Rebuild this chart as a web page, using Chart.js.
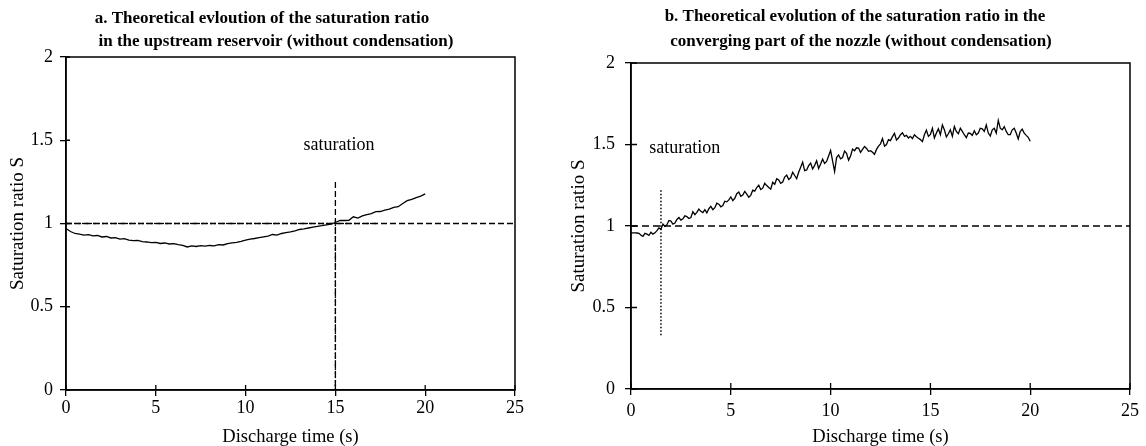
<!DOCTYPE html>
<html>
<head>
<meta charset="utf-8">
<script src="https://cdn.jsdelivr.net/npm/chart.js@4/dist/chart.umd.min.js"></script>
<style>
body{margin:0;background:#fff}
canvas{position:absolute;top:0}
#chartA{left:0}
#chartB{left:563px}
</style>
</head>
<body>
<canvas id="chartA" width="563" height="446"></canvas>
<canvas id="chartB" width="583" height="446"></canvas>
<script>
const xTicks=[0,5,10,15,20,25]
const yTicks=[0,0.5,1,1.5,2]

// a. upstream reservoir
const timeA=[0,0.25,0.5,0.75,1,1.25,1.5,1.75,2,2.25,2.5,2.75,3,3.25,3.5,3.75,4,4.25,4.5,4.75,
5,5.25,5.5,5.75,6,6.25,6.5,6.75,7,7.25,7.5,7.75,8,8.25,8.5,8.75,9,9.25,9.5,9.75,
10,10.25,10.5,10.75,11,11.25,11.5,11.75,12,12.25,12.5,12.75,13,13.25,13.5,13.75,14,14.25,14.5,14.75,
15,15.25,15.5,15.75,16,16.25,16.5,16.75,17,17.25,17.5,17.75,18,18.25,18.5,18.75,19,19.25,19.5,19.75,20]
const ratioA=[0.970,0.952,0.940,0.936,0.930,0.933,0.926,0.928,0.919,0.922,0.913,0.915,0.906,0.909,0.900,0.897,0.899,0.891,0.889,0.885,
0.887,0.880,0.883,0.877,0.879,0.873,0.869,0.859,0.865,0.862,0.867,0.864,0.868,0.866,0.873,0.871,0.879,0.884,0.887,0.893,
0.900,0.906,0.910,0.915,0.920,0.924,0.934,0.930,0.940,0.945,0.950,0.956,0.964,0.968,0.973,0.978,0.983,0.987,0.992,0.997,
1.006,1.018,1.018,1.019,1.040,1.032,1.046,1.054,1.060,1.071,1.072,1.080,1.086,1.097,1.101,1.120,1.137,1.145,1.156,1.165,1.178]

// b. converging part of the nozzle
const timeB=[0,0.1,0.2,0.3,0.4,0.5,0.6,0.7,0.8,0.9,1,1.1,1.2,1.3,1.4,1.5,1.6,1.7,1.8,1.9,
2,2.1,2.2,2.3,2.4,2.5,2.6,2.7,2.8,2.9,3,3.1,3.2,3.3,3.4,3.5,3.6,3.7,3.8,3.9,
4,4.1,4.2,4.3,4.4,4.5,4.6,4.7,4.8,4.9,5,5.1,5.2,5.3,5.4,5.5,5.6,5.7,5.8,5.9,
6,6.1,6.2,6.3,6.4,6.5,6.6,6.7,6.8,6.9,7,7.1,7.2,7.3,7.4,7.5,7.6,7.7,7.8,7.9,
8,8.1,8.2,8.3,8.4,8.5,8.6,8.7,8.8,8.9,9,9.1,9.2,9.3,9.4,9.5,9.6,9.7,9.8,9.9,
10,10.1,10.2,10.3,10.4,10.5,10.6,10.7,10.8,10.9,11,11.1,11.2,11.3,11.4,11.5,11.6,11.7,11.8,11.9,
12,12.1,12.2,12.3,12.4,12.5,12.6,12.7,12.8,12.9,13,13.1,13.2,13.3,13.4,13.5,13.6,13.7,13.8,13.9,
14,14.1,14.2,14.3,14.4,14.5,14.6,14.7,14.8,14.9,15,15.1,15.2,15.3,15.4,15.5,15.6,15.7,15.8,15.9,
16,16.1,16.2,16.3,16.4,16.5,16.6,16.7,16.8,16.9,17,17.1,17.2,17.3,17.4,17.5,17.6,17.7,17.8,17.9,
18,18.1,18.2,18.3,18.4,18.5,18.6,18.7,18.8,18.9,19,19.1,19.2,19.3,19.4,19.5,19.6,19.7,19.8,19.9,20]
const ratioB=[0.958,0.958,0.958,0.957,0.955,0.944,0.936,0.955,0.950,0.942,0.962,0.950,0.958,0.972,0.988,0.980,1.012,0.998,1.008,1.034,
1.030,1.012,1.018,1.040,1.052,1.036,1.044,1.062,1.058,1.046,1.052,1.088,1.070,1.084,1.104,1.090,1.082,1.100,1.080,1.106,
1.120,1.100,1.112,1.140,1.134,1.118,1.126,1.152,1.148,1.160,1.178,1.156,1.170,1.198,1.208,1.182,1.190,1.212,1.196,1.176,
1.188,1.220,1.214,1.236,1.250,1.224,1.232,1.262,1.248,1.236,1.226,1.268,1.256,1.290,1.282,1.262,1.270,1.300,1.312,1.286,
1.296,1.330,1.310,1.290,1.330,1.360,1.392,1.340,1.344,1.370,1.386,1.350,1.372,1.400,1.352,1.380,1.410,1.384,1.396,1.430,
1.464,1.400,1.334,1.420,1.436,1.412,1.420,1.460,1.446,1.404,1.430,1.472,1.462,1.480,1.478,1.452,1.470,1.488,1.476,1.458,
1.462,1.452,1.440,1.470,1.490,1.504,1.536,1.490,1.500,1.530,1.524,1.548,1.568,1.528,1.540,1.560,1.572,1.550,1.556,1.540,
1.550,1.536,1.560,1.548,1.538,1.530,1.518,1.560,1.588,1.550,1.562,1.600,1.540,1.570,1.596,1.560,1.620,1.590,1.546,1.566,
1.590,1.550,1.610,1.580,1.566,1.600,1.580,1.560,1.542,1.570,1.568,1.556,1.584,1.560,1.570,1.600,1.596,1.580,1.620,1.570,
1.552,1.590,1.600,1.570,1.648,1.600,1.590,1.610,1.580,1.560,1.560,1.590,1.600,1.570,1.534,1.580,1.594,1.570,1.556,1.544,1.520]

// reference lines
const satX=[0,25], satY=[1,1]
const satDotX=[0,17.3]
const markAx=[15,15], markAy=[1.25,0]
const markAdotY=[1.02,0]
const markBx=[1.5,1.5], markBy=[1.22,0.32]

const serif="'Liberation Serif','Times New Roman',serif"
const pts=(xs,ys)=>xs.map((v,i)=>({x:v,y:ys[i]}))

const frame={
id:'frame',
afterDatasetsDraw(chart,args,o){
const {ctx,chartArea:a,scales:{x,y}}=chart
ctx.save()
ctx.strokeStyle='#000'
ctx.lineWidth=1.5
ctx.strokeRect(a.left,a.top,a.right-a.left,a.bottom-a.top)
ctx.lineWidth=1.3
ctx.beginPath()
x.ticks.forEach(t=>{const px=x.getPixelForValue(t.value);ctx.moveTo(px,a.bottom);ctx.lineTo(px,a.bottom-o.inX)})
y.ticks.forEach(t=>{const py=y.getPixelForValue(t.value);ctx.moveTo(a.left,py);ctx.lineTo(a.left+o.inY,py)})
ctx.stroke()
ctx.fillStyle='#000'
ctx.textAlign='center'
ctx.textBaseline='middle'
ctx.font='18px '+serif
ctx.fillText(o.note,x.getPixelForValue(o.noteAt[0]),y.getPixelForValue(o.noteAt[1]))
ctx.font='bold 17px '+serif
o.title.forEach((line,i)=>ctx.fillText(line,o.titlePos[i][0],o.titlePos[i][1]))
ctx.restore()
}
}

function scales(c){
return {
x:{
type:'linear',min:0,max:25,
afterBuildTicks:s=>{s.ticks=xTicks.map(v=>({value:v}))},
afterFit:s=>{s.height=c.xh},
grid:{drawOnChartArea:false,color:'#000',lineWidth:1.3,tickLength:6},
border:{color:'#000',width:1.5},
ticks:{color:'#000',font:{family:serif,size:18},padding:c.xpad,maxRotation:0,autoSkip:false,callback:v=>String(v)},
title:{display:true,text:'Discharge time (s)',color:'#000',font:{family:serif,size:18.5,lineHeight:1},padding:{top:0,bottom:0}}
},
y:{
type:'linear',min:0,max:2,
afterBuildTicks:s=>{s.ticks=yTicks.map(v=>({value:v}))},
afterFit:s=>{s.width=c.yw},
grid:{drawOnChartArea:false,color:'#000',lineWidth:1.3,tickLength:6},
border:{color:'#000',width:1.5},
ticks:{color:'#000',font:{family:serif,size:18},padding:c.ypad,autoSkip:false,callback:v=>String(v)},
title:{display:true,text:'Saturation ratio S',color:'#000',font:{family:serif,size:19,lineHeight:1},padding:{top:c.ytp,bottom:0}}
}
}
}

const lineStyle={showLine:true,pointRadius:0,borderColor:'#000',fill:false,tension:0}

new Chart(document.getElementById('chartA'),{
type:'scatter',
data:{datasets:[
{...lineStyle,data:pts(satX,satY),borderWidth:1.3,borderDash:[6,3]},
{...lineStyle,data:pts(satDotX,satY),borderWidth:1.3,borderDash:[2,2]},
{...lineStyle,data:pts(markAx,markAy),borderWidth:1.3,borderDash:[6,3]},
{...lineStyle,data:pts(markAx,markAdotY),borderWidth:1.3,borderDash:[2,2]},
{...lineStyle,data:pts(timeA,ratioA),borderWidth:1.3}
]},
options:{
responsive:false,animation:false,
layout:{padding:{left:0,top:57,right:48,bottom:0}},
plugins:{legend:{display:false},tooltip:{enabled:false},
frame:{inX:5,inY:4,note:'saturation',noteAt:[15.2,1.47],
title:['a. Theoretical evloution of the saturation ratio','in the upstream reservoir (without condensation)'],
titlePos:[[262,19],[276,42]]}},
scales:scales({xh:56,yw:66,xpad:1,ypad:7,ytp:8.5})
},
plugins:[frame]
})

new Chart(document.getElementById('chartB'),{
type:'scatter',
data:{datasets:[
{...lineStyle,data:pts(satX,satY),borderWidth:1.5,borderDash:[7,4]},
{...lineStyle,data:pts(markBx,markBy),borderWidth:1.5,borderDash:[1.5,2]},
{...lineStyle,data:pts(timeB,ratioB),borderWidth:1.3}
]},
options:{
responsive:false,animation:false,
layout:{padding:{left:0,top:63,right:16,bottom:0}},
plugins:{legend:{display:false},tooltip:{enabled:false},
frame:{inX:6,inY:6,note:'saturation',noteAt:[2.69,1.477],
title:['b. Theoretical evolution of the saturation ratio in the','converging part of the nozzle (without condensation)'],
titlePos:[[292,17],[298,42]]}},
scales:scales({xh:57,yw:68,xpad:5,ypad:10,ytp:6.5})
},
plugins:[frame]
})
</script>
</body>
</html>
